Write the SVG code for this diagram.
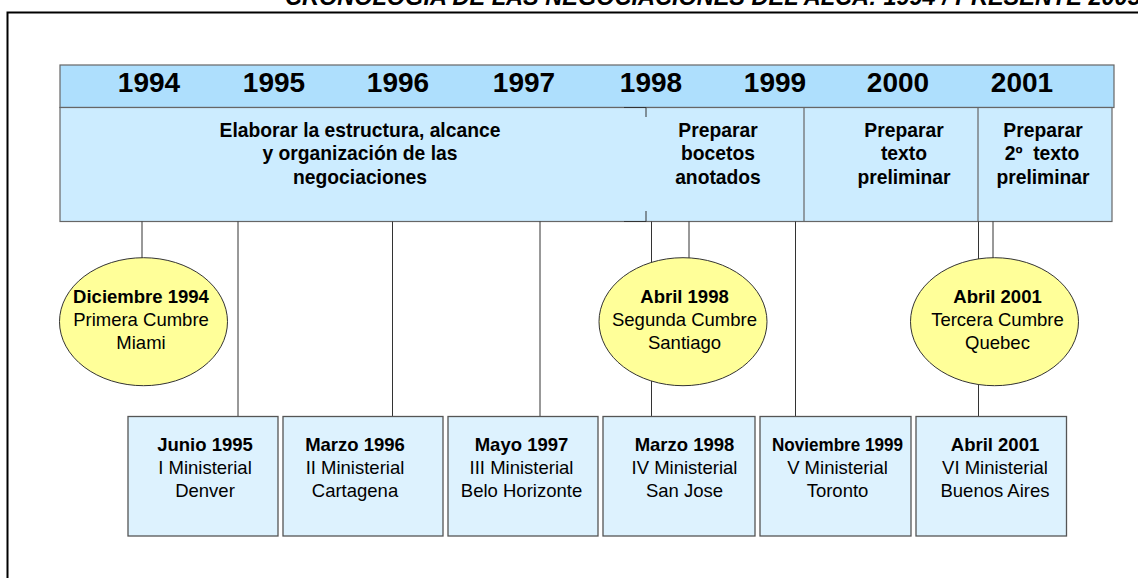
<svg xmlns="http://www.w3.org/2000/svg" width="1138" height="578" viewBox="0 0 1138 578">
<style>
text{font-family:"Liberation Sans",Arial,sans-serif;fill:#000;text-anchor:middle}
.title{font-size:23.5px;font-weight:bold;font-style:italic;text-anchor:start}
.yr{font-size:28px;font-weight:bold}
.ph{font-size:19.3px;font-weight:bold}
.b{font-size:18.5px;font-weight:bold}
.r{font-size:18.5px}
.ell{fill:#FFFF99;stroke:#333;stroke-width:1}
.box{fill:#DDF2FE;stroke:#555;stroke-width:1.3}
.con line{stroke:#333;stroke-width:1}
</style>
<rect width="1138" height="578" fill="#fff"/>
<text class="title" x="285" y="4.5">CRONOLOGIA DE LAS NEGOCIACIONES DEL ALCA: 1994 / PRESENTE 2003</text>
<path d="M7.5,578 V12.5 H1138" fill="none" stroke="#000" stroke-width="2"/>

<g id="years">
<rect x="60" y="65" width="1054" height="42.5" fill="#AEDFFD" stroke="#666" stroke-width="1.2"/>
<text class="yr" x="149" y="91.5">1994</text>
<text class="yr" x="274" y="91.5">1995</text>
<text class="yr" x="398" y="91.5">1996</text>
<text class="yr" x="524" y="91.5">1997</text>
<text class="yr" x="651" y="91.5">1998</text>
<text class="yr" x="775" y="91.5">1999</text>
<text class="yr" x="898" y="91.5">2000</text>
<text class="yr" x="1022" y="91.5">2001</text>
</g>

<g id="phases">
<rect x="60" y="107.5" width="1052" height="114" fill="#CCECFF" stroke="#666" stroke-width="1.2"/>
<line x1="804" y1="107.5" x2="804" y2="221.5" stroke="#666" stroke-width="1.2"/>
<line x1="978" y1="107.5" x2="978" y2="221.5" stroke="#666" stroke-width="1.2"/>
<path d="M624,107.5 H646 V117 M624,221.5 H646 V211" fill="none" stroke="#333" stroke-width="1"/>
<text class="ph" x="360" y="136.5">Elaborar la estructura, alcance</text>
<text class="ph" x="360" y="160">y organización de las</text>
<text class="ph" x="360" y="183.5">negociaciones</text>
<text class="ph" x="718" y="136.5">Preparar</text>
<text class="ph" x="718" y="160">bocetos</text>
<text class="ph" x="718" y="183.5">anotados</text>
<text class="ph" x="904" y="136.5">Preparar</text>
<text class="ph" x="904" y="160">texto</text>
<text class="ph" x="904" y="183.5">preliminar</text>
<text class="ph" x="1043" y="136.5">Preparar</text>
<text class="ph" x="1042" y="160" xml:space="preserve">2º  texto</text>
<text class="ph" x="1043" y="183.5">preliminar</text>
</g>

<g class="con" id="connectors">
<line x1="142" y1="221.5" x2="142" y2="258"/>
<line x1="238" y1="221.5" x2="238" y2="416.5"/>
<line x1="392.5" y1="221.5" x2="392.5" y2="416.5"/>
<line x1="540" y1="221.5" x2="540" y2="416.5"/>
<line x1="651.5" y1="221.5" x2="651.5" y2="262.5"/>
<line x1="651.5" y1="381" x2="651.5" y2="416.5"/>
<line x1="689" y1="221.5" x2="689" y2="258"/>
<line x1="795.5" y1="221.5" x2="795.5" y2="416.5"/>
<line x1="978.5" y1="221.5" x2="978.5" y2="259"/>
<line x1="978.5" y1="384.5" x2="978.5" y2="416.5"/>
<line x1="993" y1="221.5" x2="993" y2="258"/>
</g>

<g id="cumbre1">
<ellipse class="ell" cx="143.5" cy="321.7" rx="84" ry="64"/>
<text class="b" x="141" y="303">Diciembre 1994</text>
<text class="r" x="141" y="326">Primera Cumbre</text>
<text class="r" x="141" y="349">Miami</text>
</g>
<g id="cumbre2">
<ellipse class="ell" cx="683" cy="321.7" rx="84" ry="64"/>
<text class="b" x="684.5" y="303">Abril 1998</text>
<text class="r" x="684.5" y="326">Segunda Cumbre</text>
<text class="r" x="684.5" y="349">Santiago</text>
</g>
<g id="cumbre3">
<ellipse class="ell" cx="994.5" cy="321.7" rx="84" ry="64"/>
<text class="b" x="997.5" y="303">Abril 2001</text>
<text class="r" x="997.5" y="326">Tercera Cumbre</text>
<text class="r" x="997.5" y="349">Quebec</text>
</g>

<g id="min1">
<rect class="box" x="128" y="416.5" width="150" height="119.5"/>
<text class="b" x="205" y="451">Junio 1995</text>
<text class="r" x="205" y="474">I Ministerial</text>
<text class="r" x="205" y="497">Denver</text>
</g>
<g id="min2">
<rect class="box" x="283" y="416.5" width="160" height="119.5"/>
<text class="b" x="355" y="451">Marzo 1996</text>
<text class="r" x="355" y="474">II Ministerial</text>
<text class="r" x="355" y="497">Cartagena</text>
</g>
<g id="min3">
<rect class="box" x="448" y="416.5" width="150" height="119.5"/>
<text class="b" x="521.5" y="451">Mayo 1997</text>
<text class="r" x="521.5" y="474">III Ministerial</text>
<text class="r" x="521.5" y="497">Belo Horizonte</text>
</g>
<g id="min4">
<rect class="box" x="603" y="416.5" width="152" height="119.5"/>
<text class="b" x="684.5" y="451">Marzo 1998</text>
<text class="r" x="684.5" y="474">IV Ministerial</text>
<text class="r" x="684.5" y="497">San Jose</text>
</g>
<g id="min5">
<rect class="box" x="760" y="416.5" width="151" height="119.5"/>
<text class="b" x="837.5" y="451" textLength="131" lengthAdjust="spacingAndGlyphs">Noviembre 1999</text>
<text class="r" x="837.5" y="474">V Ministerial</text>
<text class="r" x="837.5" y="497">Toronto</text>
</g>
<g id="min6">
<rect class="box" x="916" y="416.5" width="150.5" height="119.5"/>
<text class="b" x="995" y="451">Abril 2001</text>
<text class="r" x="995" y="474">VI Ministerial</text>
<text class="r" x="995" y="497">Buenos Aires</text>
</g>
</svg>
